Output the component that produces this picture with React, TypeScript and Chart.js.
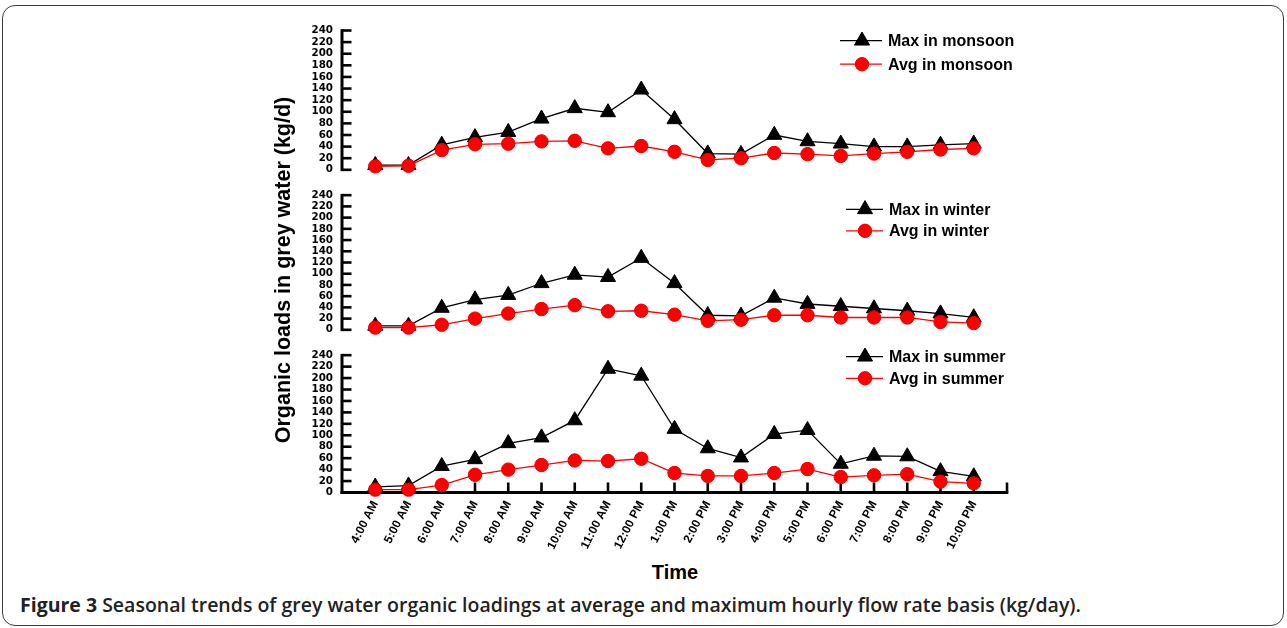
import React, { useEffect, useRef } from 'react';
import { Chart, registerables } from 'chart.js';

Chart.register(...registerables);

// ---------------- data ----------------
const HOURS = [
  '4:00 AM', '5:00 AM', '6:00 AM', '7:00 AM', '8:00 AM', '9:00 AM', '10:00 AM',
  '11:00 AM', '12:00 PM', '1:00 PM', '2:00 PM', '3:00 PM', '4:00 PM', '5:00 PM',
  '6:00 PM', '7:00 PM', '8:00 PM', '9:00 PM', '10:00 PM',
];
const Y_MIN = 0;
const Y_MAX = 240;
const Y_STEP = 20;

const MAX_MONSOON = [8, 8, 43, 56, 65, 88, 106, 99, 138, 87, 28, 27, 60, 49, 45, 40, 40, 43, 45];
const AVG_MONSOON = [6, 7, 34, 44, 45, 49, 50, 37, 41, 31, 17, 20, 29, 27, 24, 28, 31, 35, 37];

const MAX_WINTER = [7, 7, 39, 54, 62, 83, 98, 94, 128, 83, 26, 25, 57, 46, 42, 38, 34, 29, 22];
const AVG_WINTER = [4, 4, 9, 20, 29, 37, 44, 33, 34, 27, 16, 18, 26, 26, 22, 22, 22, 14, 12];

const MAX_SUMMER = [10, 12, 46, 58, 86, 96, 126, 216, 204, 111, 77, 61, 102, 109, 50, 64, 63, 37, 28];
const AVG_SUMMER = [5, 5, 13, 31, 40, 48, 56, 55, 59, 34, 29, 29, 34, 41, 27, 30, 32, 19, 16];

const LABELS_MONSOON = ['Max in monsoon', 'Avg in monsoon'];
const LABELS_WINTER = ['Max in winter', 'Avg in winter'];
const LABELS_SUMMER = ['Max in summer', 'Avg in summer'];

const Y_TITLE = 'Organic loads in grey water (kg/d)';
const X_TITLE = 'Time';
const CAPTION_BOLD = 'Figure 3';
const CAPTION_TEXT = ' Seasonal trends of grey water organic loadings at average and maximum hourly flow rate basis (kg/day).';

// ---------------- styling ----------------
const ARIAL = '"Liberation Sans", Arial, sans-serif';

const axesPlugin = {
  id: 'panelAxes',
  beforeDatasetsDraw(chart: any, _args: any, opts: any) {
    const { ctx, chartArea, scales } = chart;
    const y = scales.y;
    const x = scales.x;
    const x0 = chartArea.left;
    const yTop = y.getPixelForValue(y.max);
    const yBot = y.getPixelForValue(y.min);
    ctx.save();
    ctx.strokeStyle = '#000';
    ctx.lineCap = 'butt';
    ctx.lineWidth = 2.6;
    y.ticks.forEach((t: any) => {
      const py = y.getPixelForValue(t.value);
      ctx.beginPath();
      ctx.moveTo(x0, py);
      ctx.lineTo(x0 + 9.5, py);
      ctx.stroke();
    });
    ctx.lineWidth = 3;
    ctx.beginPath();
    ctx.moveTo(x0, yTop - 1.3);
    ctx.lineTo(x0, yBot + 1.3);
    ctx.stroke();
    if (opts.xAxis) {
      ctx.lineWidth = 2.6;
      x.ticks.forEach((t: any) => {
        if (t.value <= x.min) return;
        const px = x.getPixelForValue(t.value);
        ctx.beginPath();
        ctx.moveTo(px, yBot);
        ctx.lineTo(px, yBot - 10);
        ctx.stroke();
      });
      ctx.lineWidth = 3;
      ctx.beginPath();
      ctx.moveTo(x0 - 1.5, yBot);
      ctx.lineTo(x.getPixelForValue(x.max) + 1.3, yBot);
      ctx.stroke();
    }
    ctx.restore();
  },
};

function drawMarker(ctx: CanvasRenderingContext2D, style: string, r: number, cx: number, cy: number, fill: string, stroke: string) {
  ctx.beginPath();
  if (style === 'triangle') {
    let rad = 0;
    ctx.moveTo(cx + Math.sin(rad) * r, cy - Math.cos(rad) * r);
    rad += (2 * Math.PI) / 3;
    ctx.lineTo(cx + Math.sin(rad) * r, cy - Math.cos(rad) * r);
    rad += (2 * Math.PI) / 3;
    ctx.lineTo(cx + Math.sin(rad) * r, cy - Math.cos(rad) * r);
    ctx.closePath();
  } else {
    ctx.arc(cx, cy, r, 0, Math.PI * 2);
  }
  ctx.fillStyle = fill;
  ctx.fill();
  ctx.strokeStyle = stroke;
  ctx.lineWidth = 1;
  ctx.stroke();
}

const legendPlugin = {
  id: 'panelLegend',
  afterDraw(chart: any, _args: any, opts: any) {
    const { ctx } = chart;
    ctx.save();
    chart.data.datasets.forEach((ds: any, i: number) => {
      const yy = opts.y - opts.offsetTop + i * opts.gap;
      ctx.strokeStyle = ds.borderColor;
      ctx.lineWidth = ds.borderWidth;
      ctx.beginPath();
      ctx.moveTo(opts.x0, yy);
      ctx.lineTo(opts.x1, yy);
      ctx.stroke();
      drawMarker(ctx, ds.pointStyle, ds.pointRadius, opts.mx, yy, ds.pointBackgroundColor, ds.pointBorderColor);
      ctx.fillStyle = '#000';
      ctx.font = `bold 16px ${ARIAL}`;
      ctx.textAlign = 'left';
      ctx.textBaseline = 'middle';
      ctx.fillText(ds.label, opts.tx, yy + 1);
    });
    ctx.restore();
  },
};

type PanelProps = {
  maxData: number[];
  avgData: number[];
  labels: string[];
  top: number;
  height: number;
  padTop: number;
  padBottom: number;
  showX: boolean;
  xHeight?: number;
  legend: { x0: number; x1: number; mx: number; tx: number; y: number; gap: number };
};

function Panel(p: PanelProps) {
  const ref = useRef<HTMLCanvasElement | null>(null);
  useEffect(() => {
    if (!ref.current) return;
    const toPts = (arr: number[]) => arr.map((v, i) => ({ x: i + 1, y: v }));
    const chart = new Chart(ref.current, {
      type: 'line',
      data: {
        datasets: [
          {
            label: p.labels[0],
            data: toPts(p.maxData),
            borderColor: '#000000',
            backgroundColor: '#000000',
            borderWidth: 1.3,
            pointStyle: 'triangle',
            pointRadius: 8.7,
            pointHoverRadius: 8.7,
            pointBackgroundColor: '#000000',
            pointBorderColor: '#000000',
            pointBorderWidth: 1,
            order: 1,
            clip: false,
            tension: 0,
          } as any,
          {
            label: p.labels[1],
            data: toPts(p.avgData),
            borderColor: '#ff0000',
            backgroundColor: '#ff0000',
            borderWidth: 1.3,
            pointStyle: 'circle',
            pointRadius: 6.7,
            pointHoverRadius: 6.7,
            pointBackgroundColor: '#ff0000',
            pointBorderColor: '#e40000',
            pointBorderWidth: 1,
            order: 0,
            clip: false,
            tension: 0,
          } as any,
        ],
      },
      options: {
        animation: false,
        responsive: false,
        events: [],
        layout: { padding: { left: 300, right: 280, top: p.padTop, bottom: p.padBottom } },
        plugins: {
          legend: { display: false },
          tooltip: { enabled: false },
          panelAxes: { xAxis: p.showX },
          panelLegend: { ...p.legend, offsetTop: p.top },
        } as any,
        scales: {
          x: {
            type: 'linear',
            min: 0,
            max: HOURS.length + 1,
            display: p.showX,
            grid: { display: false, drawTicks: false },
            border: { display: false },
            ticks: {
              stepSize: 1,
              autoSkip: false,
              maxRotation: 63,
              minRotation: 63,
              padding: 6,
              color: '#000',
              font: { family: ARIAL, size: 12, weight: 'bold' },
              callback: (v: any) => HOURS[Math.round(Number(v)) - 1] ?? '',
            },
            afterFit: (s: any) => {
              if (p.xHeight) s.height = p.xHeight;
            },
          },
          y: {
            min: Y_MIN,
            max: Y_MAX,
            grid: { display: false, drawTicks: false },
            border: { display: false },
            ticks: {
              stepSize: Y_STEP,
              autoSkip: false,
              padding: 9,
              color: '#000',
              font: { family: '"DejaVu Sans", Arial, sans-serif', size: 10.3, weight: 'bold' },
            },
            afterFit: (s: any) => {
              s.width = 42;
            },
          },
        } as any,
      },
      plugins: [axesPlugin, legendPlugin],
    });
    return () => chart.destroy();
  }, []);
  return (
    <canvas
      ref={ref}
      width={1287}
      height={p.height}
      style={{ position: 'absolute', left: 0, top: p.top, width: 1287, height: p.height }}
    />
  );
}

export default function App() {
  return (
    <div style={{ position: 'absolute', left: 0, top: 0, width: 1287, height: 628, background: '#fff', overflow: 'hidden' }}>
      <div
        style={{
          position: 'absolute', left: 2, top: 5, width: 1282, height: 621, boxSizing: 'border-box',
          border: '1.6px solid #3c3c3c', borderRadius: 13,
        }}
      />
      <Panel
        maxData={MAX_MONSOON} avgData={AVG_MONSOON} labels={LABELS_MONSOON}
        top={0} height={185} padTop={30.5} padBottom={11.7} showX={false}
        legend={{ x0: 840, x1: 882, mx: 862, tx: 888, y: 40.7, gap: 23.5 }}
      />
      <Panel
        maxData={MAX_WINTER} avgData={AVG_WINTER} labels={LABELS_WINTER}
        top={180} height={165} padTop={7.5} padBottom={13.3} showX={false}
        legend={{ x0: 846, x1: 883, mx: 865, tx: 889, y: 209.3, gap: 21.5 }}
      />
      <Panel
        maxData={MAX_SUMMER} avgData={AVG_SUMMER} labels={LABELS_SUMMER}
        top={340} height={220} padTop={7.5} padBottom={0} showX={true} xHeight={67.5}
        legend={{ x0: 846, x1: 883, mx: 865, tx: 889, y: 356.7, gap: 21.6 }}
      />
      <div
        style={{
          position: 'absolute', left: 283 - 190, top: 270 - 13, width: 380, height: 26,
          lineHeight: '26px', textAlign: 'center', transform: 'rotate(-90deg)',
          fontFamily: ARIAL, fontWeight: 'bold', fontSize: 21.5, color: '#000', whiteSpace: 'nowrap',
        }}
      >
        {Y_TITLE}
      </div>
      <div
        style={{
          position: 'absolute', left: 575, top: 560, width: 200, height: 24, lineHeight: '24px',
          textAlign: 'center', fontFamily: ARIAL, fontWeight: 'bold', fontSize: 20, color: '#000',
        }}
      >
        {X_TITLE}
      </div>
      <div
        style={{
          position: 'absolute', left: 20, top: 595, height: 20, lineHeight: '20px', whiteSpace: 'nowrap',
          fontFamily: '"Open Sans", sans-serif', fontSize: 19.5, fontWeight: 600, color: '#222',
        }}
      >
        <span style={{ fontWeight: 700 }}>{CAPTION_BOLD}</span>
        {CAPTION_TEXT}
      </div>
    </div>
  );
}
